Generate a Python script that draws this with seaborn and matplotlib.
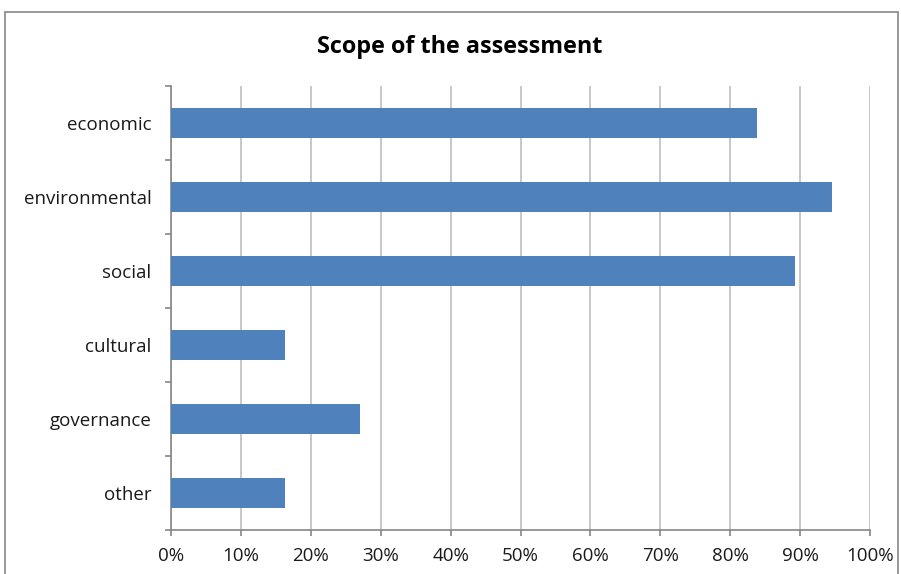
import matplotlib
matplotlib.use("Agg")
import matplotlib.pyplot as plt
import seaborn as sns
import pandas as pd
from matplotlib.ticker import PercentFormatter, FixedLocator
from matplotlib.patches import Rectangle

categories = ["economic", "environmental", "social", "cultural", "governance", "other"]
values = [83.8, 94.6, 89.2, 16.3, 27.0, 16.3]
x_ticks = [0, 10, 20, 30, 40, 50, 60, 70, 80, 90, 100]

sns.set_theme(style="white")
plt.rcParams['font.family'] = ['Open Sans', 'DejaVu Sans']

W, H = 901, 574
fig = plt.figure(figsize=(W / 100, H / 100), dpi=100)

# outer chart border
fig.patches.append(Rectangle((5 / W, -0.05), (898 - 5) / W, 1.05 - 12 / H,
                             transform=fig.transFigure, fill=False,
                             edgecolor="#868686", linewidth=1.2))

left, right, top, bottom = 171, 870, 86, 530
ax = fig.add_axes([left / W, 1 - bottom / H, (right - left) / W, (bottom - top) / H])

df = pd.DataFrame({"category": categories, "value": values})
sns.barplot(data=df, x="value", y="category", orient="h", width=0.4,
            color="#4F81BD", saturation=1, ax=ax, zorder=3, linewidth=0)

ax.set_xlim(0, 100)
ax.set_ylim(len(categories) - 0.5, -0.5)
ax.xaxis.set_major_locator(FixedLocator(x_ticks))
ax.xaxis.set_major_formatter(PercentFormatter(decimals=0))
ax.set_xlabel("")
ax.set_ylabel("")

ax.grid(axis="x", color="#BFBFBF", linewidth=1.2, zorder=0)
ax.set_axisbelow(True)

for s in ["top", "right"]:
    ax.spines[s].set_visible(False)
for s in ["left", "bottom"]:
    ax.spines[s].set_color("#868686")
    ax.spines[s].set_linewidth(1.2)

ax.tick_params(axis="x", which="major", length=4, width=1.2, color="#868686",
               direction="out", bottom=True, pad=8, labelsize=13.5, labelcolor="#1a1a1a")
ax.tick_params(axis="y", which="major", length=0, pad=14, labelsize=13.5, labelcolor="#1a1a1a")
ax.yaxis.set_minor_locator(FixedLocator([i - 0.5 for i in range(len(categories) + 1)]))
ax.tick_params(axis="y", which="minor", length=4, width=1.2, color="#868686",
               direction="out", left=True)

fig.text(460 / W, 1 - 47 / H, "Scope of the assessment", ha="center", va="center",
         fontsize=16.8, fontweight="bold", color="black")

fig.savefig("out.png", dpi=100)
